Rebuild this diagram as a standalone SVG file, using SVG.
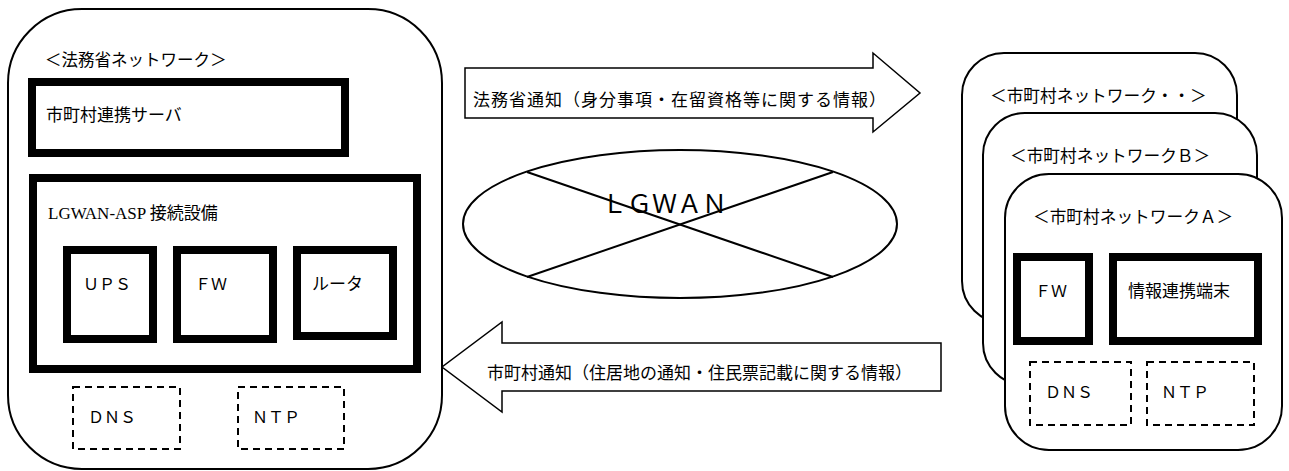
<svg xmlns="http://www.w3.org/2000/svg" width="1289" height="471" viewBox="0 0 1289 471">
<style>
text{font-family:"Noto Sans CJK JP","Noto Sans",sans-serif;font-size:17px;fill:#000}
.net{fill:#fff;stroke:#000;stroke-width:2}
.thick{fill:#fff;stroke:#000;stroke-width:8}
.dash{fill:#fff;stroke:#000;stroke-width:2;stroke-dasharray:7 5}
.arrow{fill:#fff;stroke:#000;stroke-width:1.5;stroke-linejoin:miter}
.serif{font-family:"Liberation Serif",serif}
</style>
<g id="moj-network">
<rect class="net" x="8" y="9" width="434" height="460" rx="74" ry="74"/>
<text x="45" y="66" style="font-size:16.5px">＜法務省ネットワーク＞</text>
</g>
<g id="moj-server">
<rect class="thick" x="32" y="82" width="313" height="71"/>
<text x="46" y="121">市町村連携サーバ</text>
</g>
<g id="lgwan-asp">
<rect class="thick" x="33" y="178" width="384" height="191"/>
<text x="48" y="219"><tspan class="serif">LGWAN-ASP </tspan>接続設備</text>
</g>
<g id="ups">
<rect class="thick" x="67" y="250" width="86" height="89"/>
<text x="83" y="290" style="font-size:16px">ＵＰＳ</text>
</g>
<g id="fw-moj">
<rect class="thick" x="177" y="250" width="96" height="89"/>
<text x="195" y="290" style="font-size:16px">ＦＷ</text>
</g>
<g id="router">
<rect class="thick" x="297" y="250" width="96" height="86"/>
<text x="312" y="290">ルータ</text>
</g>
<g id="dns-moj">
<rect class="dash" x="73" y="387" width="107" height="62"/>
<text x="88" y="423" style="font-size:16px">ＤＮＳ</text>
</g>
<g id="ntp-moj">
<rect class="dash" x="238" y="387" width="106" height="62"/>
<text x="252" y="423" style="font-size:16px">ＮＴＰ</text>
</g>
<g id="lgwan">
<ellipse class="net" cx="680" cy="224" rx="217" ry="74"/>
<line x1="527" y1="172" x2="833" y2="277" stroke="#000" stroke-width="2"/>
<line x1="527" y1="277" x2="833" y2="172" stroke="#000" stroke-width="2"/>
<text x="602" y="213" style="font-size:25px">ＬＧＷＡＮ</text>
</g>
<g id="muni-net-etc">
<rect class="net" x="962" y="53" width="275" height="270" rx="42" ry="42"/>
<text x="990" y="102" style="font-size:16.7px">＜市町村ネットワーク・・＞</text>
</g>
<g id="muni-net-b">
<rect class="net" x="983" y="113" width="274" height="272" rx="42" ry="42"/>
<text x="1010" y="162" style="font-size:16.7px">＜市町村ネットワークＢ＞</text>
</g>
<g id="muni-net-a">
<rect class="net" x="1005" y="174" width="277" height="276" rx="44" ry="44"/>
<text x="1033" y="223" style="font-size:16.7px">＜市町村ネットワークＡ＞</text>
</g>
<g id="fw-muni">
<rect class="thick" x="1017" y="257" width="72" height="84"/>
<text x="1035" y="297" style="font-size:16px">ＦＷ</text>
</g>
<g id="info-terminal">
<rect class="thick" x="1113" y="257" width="145" height="84"/>
<text x="1128" y="297">情報連携端末</text>
</g>
<g id="dns-muni">
<rect class="dash" x="1030" y="362" width="101" height="63"/>
<text x="1045" y="398" style="font-size:16px">ＤＮＳ</text>
</g>
<g id="ntp-muni">
<rect class="dash" x="1147" y="362" width="107" height="63"/>
<text x="1161" y="398" style="font-size:16px">ＮＴＰ</text>
</g>
<g id="connectors">
<g id="notice-moj">
<polygon class="arrow" points="465,68 873,68 873,53 920,93 873,132 873,118 465,118"/>
<text x="473" y="106" style="letter-spacing:1px">法務省通知（身分事項・在留資格等に関する情報）</text>
</g>
<g id="notice-muni">
<polygon class="arrow" points="941,343 502,343 502,322 442,367 502,412 502,391 941,391"/>
<text x="487" y="379">市町村通知（住居地の通知・住民票記載に関する情報）</text>
</g>
</g>
</svg>
